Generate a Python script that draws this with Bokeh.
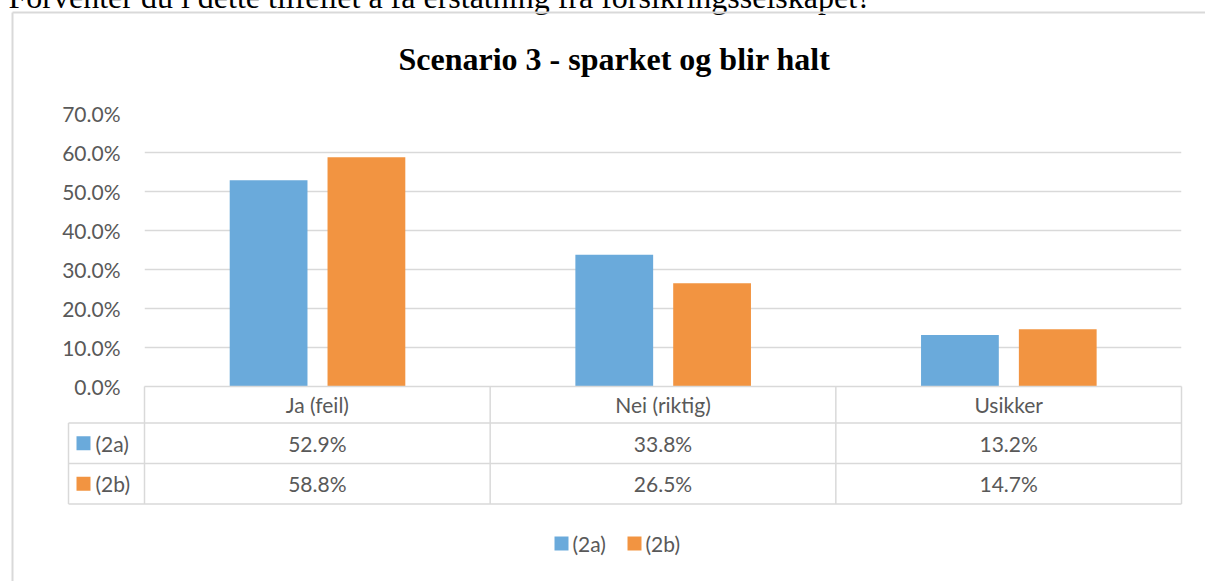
from bokeh.plotting import figure
from bokeh.models import Range1d, FactorRange, NumeralTickFormatter, FixedTicker, ColumnDataSource
from bokeh.transform import dodge
from bokeh.core.properties import value
from bokeh.embed import file_html
from bokeh.resources import INLINE

# ---- data ----
categories = ["Ja (feil)", "Nei (riktig)", "Usikker"]
series_names = ["(2a)", "(2b)"]
values_2a = [0.529, 0.338, 0.132]
values_2b = [0.588, 0.265, 0.147]
y_ticks = [0.0, 0.1, 0.2, 0.3, 0.4, 0.5, 0.6, 0.7]
labels_2a = ["52.9%", "33.8%", "13.2%"]
labels_2b = ["58.8%", "26.5%", "14.7%"]
title_text = "Scenario 3 - sparket og blir halt"
question_text = "Forventer du i dette tilfellet å få erstatning fra forsikringsselskapet?"
colors = ["#6AAADB", "#F29441"]

# ---- layout (pixels) ----
W, H = 1205, 581
L, R, T, B = 144, 1181, 113, 386
GRID = "#d9d9d9"
TXT = "#595959"
FONT = value("Lato")
FS = "21px"
n = len(categories)


def X(px):
    """screen x (pixels) -> synthetic coordinate on the factor range"""
    return (px - L) * n / (R - L)


def XW(px):
    return px * n / (R - L)


p = figure(width=W, height=H,
           x_range=FactorRange(*categories, range_padding=0),
           y_range=Range1d(0, 0.7),
           output_backend="svg", toolbar_location=None,
           min_border_left=L, min_border_right=W - R,
           min_border_top=T, min_border_bottom=H - B)
p.outline_line_color = None
p.background_fill_color = "white"
p.border_fill_color = "white"

p.xaxis.visible = False
p.xgrid.visible = False
p.ygrid.grid_line_color = GRID
p.ygrid.grid_line_width = 1.5

yax = p.yaxis[0]
yax.ticker = FixedTicker(ticks=y_ticks)
yax.formatter = NumeralTickFormatter(format="0.0%")
yax.axis_line_color = None
yax.major_tick_line_color = None
yax.minor_tick_line_color = None
yax.major_tick_out = 0
yax.major_tick_in = 0
yax.major_label_standoff = 24
yax.major_label_text_font = "Lato"
yax.major_label_text_font_size = FS
yax.major_label_text_color = TXT

src = ColumnDataSource(dict(cat=categories, a=values_2a, b=values_2b))
p.vbar(x=dodge("cat", -0.141, range=p.x_range), top="a", width=0.225, source=src,
       fill_color=colors[0], line_color=None)
p.vbar(x=dodge("cat", 0.142, range=p.x_range), top="b", width=0.225, source=src,
       fill_color=colors[1], line_color=None)

# pixel y range for decorations
p.extra_y_ranges = {"py": Range1d(B, T)}

rows_y = [386, 422.5, 463, 503.5]
left_col_x = 68
# horizontal table lines
p.segment(x0=[X(L), X(left_col_x), X(left_col_x), X(left_col_x)], y0=rows_y,
          x1=[X(R)] * 4, y1=rows_y,
          y_range_name="py", level="overlay",
          line_color=GRID, line_width=1.5)
# vertical category boundaries
p.segment(x0=list(range(n + 1)), y0=[rows_y[0]] * (n + 1),
          x1=list(range(n + 1)), y1=[rows_y[-1]] * (n + 1),
          y_range_name="py", level="overlay", line_color=GRID, line_width=1.5)
p.segment(x0=[X(left_col_x)], y0=[rows_y[1]], x1=[X(left_col_x)], y1=[rows_y[-1]],
          y_range_name="py", level="overlay",
          line_color=GRID, line_width=1.5)

# table texts
header_y = (rows_y[0] + rows_y[1]) / 2
r1_y = (rows_y[1] + rows_y[2]) / 2
r2_y = (rows_y[2] + rows_y[3]) / 2
common = dict(y_range_name="py", level="overlay", text_font=FONT, text_font_size=FS,
              text_color=TXT, text_baseline="middle")
p.text(x=categories, y=[header_y] * n, text=categories, text_align="center", **common)
p.text(x=categories, y=[r1_y] * n, text=labels_2a, text_align="center", **common)
p.text(x=categories, y=[r2_y] * n, text=labels_2b, text_align="center", **common)

# table legend keys
p.rect(x=[X(83), X(83)], y=[r1_y, r2_y], width=XW(14), height=14, y_range_name="py",
       level="overlay", fill_color=colors, line_color=None)
p.text(x=[X(95), X(95)], y=[r1_y, r2_y], text=series_names, text_align="left", **common)

# bottom legend
leg_y = 543
p.rect(x=[X(561), X(634)], y=[leg_y, leg_y], width=XW(14), height=14, y_range_name="py",
       level="overlay", fill_color=colors, line_color=None)
p.text(x=[X(572), X(645)], y=[leg_y, leg_y], text=series_names, text_align="left", **common)

# title
p.text(x=[X(614)], y=[58], text=[title_text], y_range_name="py", level="overlay",
       text_font=value("Liberation Serif"), text_font_style="bold", text_font_size="32px",
       text_color="black", text_align="center", text_baseline="middle")

# question text above chart (partly cut off at the top edge, as in the source)
p.text(x=[X(8)], y=[-4], text=[question_text], y_range_name="py", level="overlay",
       text_font=value("Liberation Serif"), text_font_size="32px",
       text_color="black", text_align="left", text_baseline="alphabetic")

# chart border
p.segment(x0=[X(12), X(12)], y0=[12, 12], x1=[X(12), X(W)], y1=[H, 12],
          y_range_name="py", level="overlay",
          line_color="#d9d9d9", line_width=2)

open("out.html", "w").write(file_html(p, INLINE))
